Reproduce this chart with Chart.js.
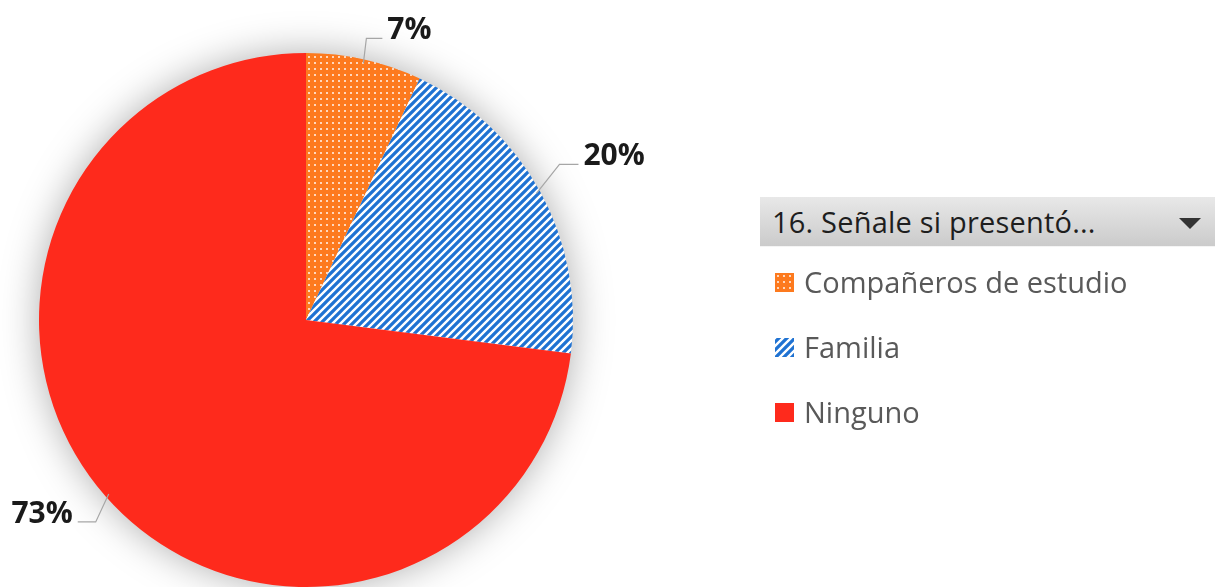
<!DOCTYPE html>
<html>
<head>
<meta charset="utf-8">
<script src="https://cdn.jsdelivr.net/npm/chart.js@4"></script>
<style>
  html, body { margin: 0; padding: 0; background: #fff; }
  #wrap { position: relative; width: 1218px; height: 587px; overflow: hidden; }
  #legend { position: absolute; left: 760px; top: 197px; width: 455px; font-family: "Open Sans", sans-serif; }
  #legend .head {
    height: 50px; box-sizing: border-box; padding-left: 12px;
    background: linear-gradient(#e8e8e8, #cbcbcb);
    border-bottom: 1px solid #f4f4f4;
    font-size: 29px; line-height: 50px; color: #1e1e1e; position: relative;
    letter-spacing: 0.2px;
  }
  #legend .head .arrow {
    position: absolute; right: 14px; top: 21px; width: 0; height: 0;
    border-left: 11px solid transparent; border-right: 11px solid transparent;
    border-top: 11px solid #333;
  }
  #legend .item { position: absolute; left: 15px; height: 30px; font-size: 29px; color: #595959; white-space: nowrap; }
  #legend .item .sw { position: absolute; left: 0; top: 6px; width: 19px; height: 19px; }
  #legend .item span { position: absolute; left: 29px; top: -5px; line-height: 40px; }
</style>
</head>
<body>
<div id="wrap">
  <canvas id="pie" width="1218" height="587"></canvas>
  <div id="legend"></div>
</div>
<script>
const categories = ["Compañeros de estudio", "Familia", "Ninguno"];
const percentages = [7, 20, 73];
const legendTitle = "16. Señale si presentó...";

const ORANGE = "#fd7a1e";
const BLUE = "#1f72d2";
const RED = "#fe2a1c";

// leader line geometry per slice: elbow offset from the arc edge, then horizontal run
const LEADERS = [
  { dx: 3, dy: -25, run: 16 },
  { dx: 23, dy: -29, run: 19 },
  { dx: -13, dy: 28, run: -18 },
];

function makeTile(size, draw) {
  const c = document.createElement("canvas");
  c.width = size;
  c.height = size;
  draw(c.getContext("2d"), size);
  return c;
}

const dotTile = makeTile(6, (g, s) => {
  g.fillStyle = ORANGE;
  g.fillRect(0, 0, s, s);
  g.fillStyle = "rgba(255,255,255,0.7)";
  g.fillRect(2, 2, 2, 2);
});

const stripeTile = makeTile(8, (g, s) => {
  g.fillStyle = BLUE;
  g.fillRect(0, 0, s, s);
  g.strokeStyle = "#ffffff";
  g.lineWidth = 2.4;
  g.beginPath();
  for (let k = -1; k <= 1; k++) {
    g.moveTo(k * s - 1, s + 1);
    g.lineTo(k * s + s + 1, -1);
  }
  g.stroke();
});

const ctx = document.getElementById("pie").getContext("2d");
const fills = [
  ctx.createPattern(dotTile, "repeat"),
  ctx.createPattern(stripeTile, "repeat"),
  RED,
];

const shadowPlugin = {
  id: "pieShadow",
  beforeDatasetsDraw(chart) {
    const arc = chart.getDatasetMeta(0).data[0];
    if (!arc) return;
    const c = chart.ctx;
    c.save();
    c.shadowColor = "rgba(0,0,0,0.35)";
    c.shadowBlur = 40;
    c.fillStyle = "#fff";
    c.beginPath();
    c.arc(arc.x, arc.y, arc.outerRadius - 2, 0, Math.PI * 2);
    c.fill();
    c.restore();
  },
};

const labelPlugin = {
  id: "leaderLabels",
  afterDatasetsDraw(chart) {
    const c = chart.ctx;
    chart.getDatasetMeta(0).data.forEach((arc, i) => {
      const mid = (arc.startAngle + arc.endAngle) / 2;
      const ex = arc.x + Math.cos(mid) * (arc.outerRadius - 4);
      const ey = arc.y + Math.sin(mid) * (arc.outerRadius - 4);
      const L = LEADERS[i];
      const bx = ex + L.dx, by = ey + L.dy;
      const tx = bx + L.run;
      c.save();
      c.strokeStyle = "#a6a6a6";
      c.lineWidth = 1.2;
      c.beginPath();
      c.moveTo(ex, ey);
      c.lineTo(bx, by);
      c.lineTo(tx, by);
      c.stroke();
      c.fillStyle = "#1a1a1a";
      c.font = "bold 30px 'Open Sans', sans-serif";
      c.textBaseline = "alphabetic";
      c.textAlign = L.run < 0 ? "right" : "left";
      c.fillText(percentages[i] + "%", tx + (L.run < 0 ? -5 : 5), by + 1);
      c.restore();
    });
  },
};

new Chart(ctx, {
  type: "pie",
  data: {
    labels: categories,
    datasets: [{
      data: percentages,
      backgroundColor: fills,
      borderWidth: 0,
    }],
  },
  options: {
    responsive: false,
    animation: false,
    layout: { padding: { left: 39, right: 645, top: 53, bottom: 0 } },
    plugins: {
      legend: { display: false },
      tooltip: { enabled: false },
    },
  },
  plugins: [shadowPlugin, labelPlugin],
});

// legend built from the same arrays
const legend = document.getElementById("legend");
const head = document.createElement("div");
head.className = "head";
head.textContent = legendTitle;
const arrow = document.createElement("div");
arrow.className = "arrow";
head.appendChild(arrow);
legend.appendChild(head);

const swatches = [
  `url(${dotTile.toDataURL()})`,
  `url(${stripeTile.toDataURL()})`,
  "none",
];
categories.forEach((name, i) => {
  const item = document.createElement("div");
  item.className = "item";
  item.style.top = (70 + i * 65) + "px";
  const sw = document.createElement("div");
  sw.className = "sw";
  sw.style.background = i === 2 ? RED : swatches[i];
  const label = document.createElement("span");
  label.textContent = name;
  item.appendChild(sw);
  item.appendChild(label);
  legend.appendChild(item);
});
</script>
</body>
</html>
